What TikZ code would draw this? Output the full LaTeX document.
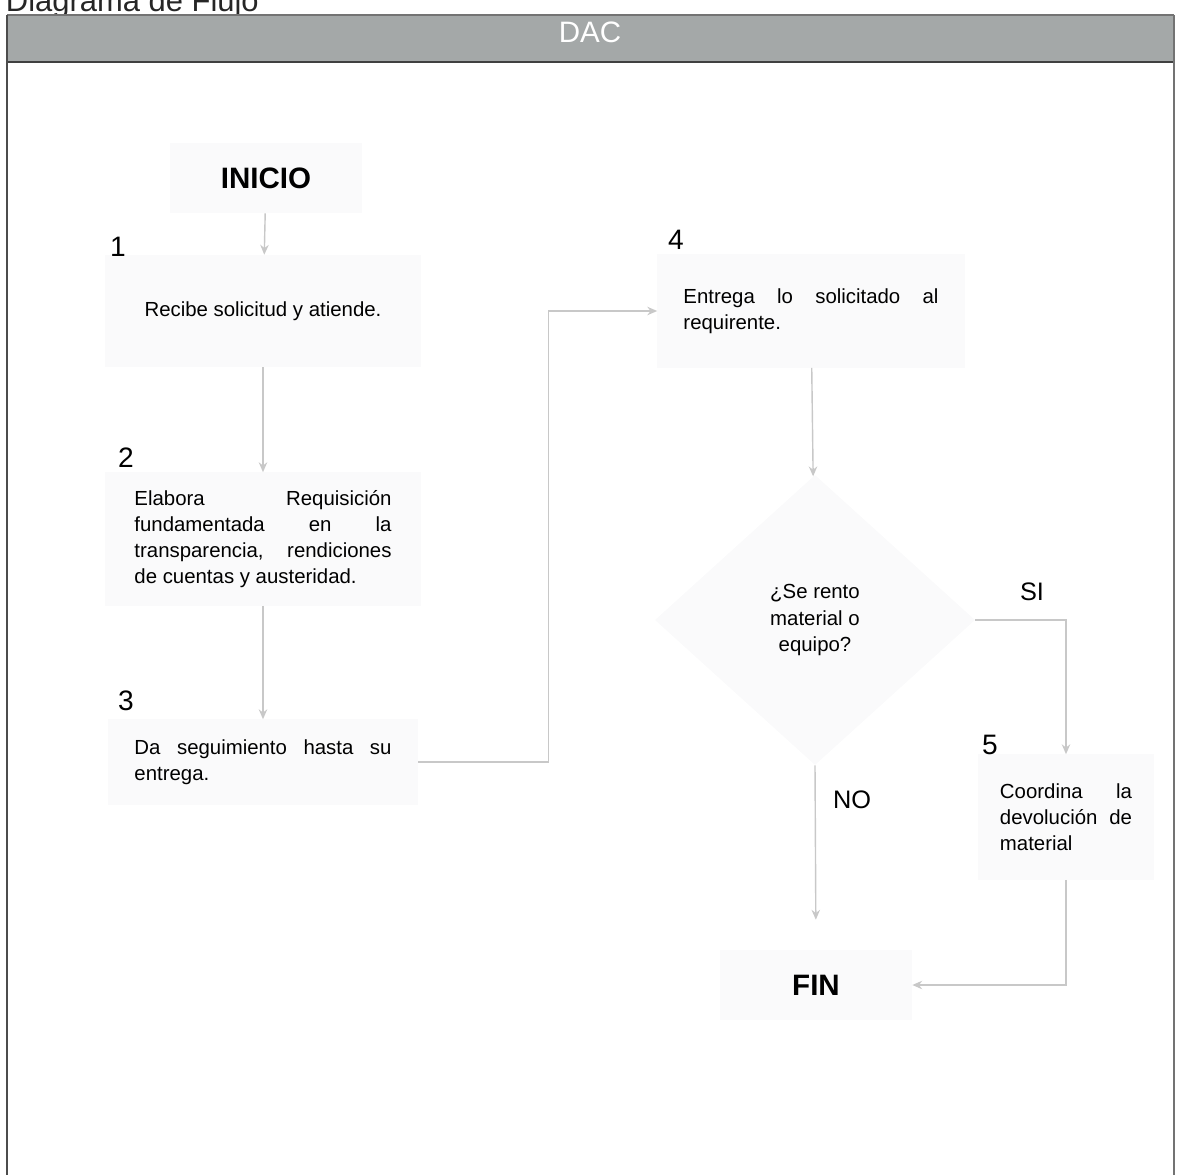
\documentclass[tikz,border=0pt]{standalone}
\usepackage{fontspec}
\setmainfont{Liberation Sans}
\usepackage{xcolor}
\usepackage{tikz}
\usetikzlibrary{arrows.meta,calc,positioning,shapes.geometric}
\definecolor{barra}{RGB}{164,168,168}
\definecolor{linea}{RGB}{200,200,200}
\definecolor{fondo}{RGB}{250,250,251}
\newcommand{\txt}{\fontsize{14.5}{18.6}\selectfont}
\newcommand{\num}{\fontsize{20}{24}\selectfont}

\begin{document}
\begin{tikzpicture}[x=0.025cm, y=-0.025cm,
    caja/.style={fill=fondo, inner sep=0pt, font=\txt},
    fin/.style={caja, minimum width=4.8cm, minimum height=1.75cm,
      font=\fontsize{21}{24}\selectfont\bfseries},
    paso/.style={font=\num},
    flujo/.style={draw=linea, line width=1pt, -{Stealth[length=7pt,width=6pt]}}]
\useasboundingbox (0,0) rectangle (1177,1175);
% marco y encabezado
\node[anchor=base west, font=\fontsize{22}{26}\selectfont, text=black!85] (titulo) at (1,12) {Diagrama de Flujo};
\fill[barra] (7,15) rectangle (1174,62);
\draw[black!55, line width=0.8pt] (7,15) -- (1174,15);
\draw[black!75, line width=1.2pt] (7,62) -- (1174,62);
\draw[black!70, line width=1pt] (7,15) -- (7,1190);
\draw[black!55, line width=0.8pt] (1174,15) -- (1174,1190);
\node[text=white, font=\fontsize{21}{24}\selectfont] (dac) at (590,32) {DAC};
% columna izquierda
\node[fin] (inicio) at (266,178) {INICIO};
\node[caja, minimum width=7.875cm, minimum height=2.8cm, align=center] (b1) at (263,311)
  {Recibe solicitud y atiende.};
\node[caja, minimum width=7.875cm, minimum height=3.325cm, text width=6.425cm, align=justify] (b2) at (263,539)
  {Elabora Requisición\linebreak fundamentada en la\linebreak transparencia, rendiciones\linebreak de cuentas y austeridad.};
\node[caja, minimum width=7.75cm, minimum height=2.125cm, text width=6.425cm, align=justify] (b3) at (263,762)
  {Da seguimiento hasta su\linebreak entrega.};
% columna derecha
\node[caja, minimum width=7.675cm, minimum height=2.825cm, text width=6.375cm, align=justify] (b4) at (811,311)
  {Entrega lo solicitado al\linebreak requirente.};
\node[caja, diamond, minimum width=8cm, minimum height=7.25cm, align=center] (rombo) at (815,620)
  {¿Se rento\\material o\\equipo?};
\node[caja, minimum width=4.4cm, minimum height=3.125cm, text width=3.3cm, align=justify] (b5) at (1066,817)
  {Coordina la\linebreak devolución de\linebreak material};
\node[fin] (final) at (816,985) {FIN};
% numeros y respuestas
\node[paso] (n1) at (118,247) {1};
\node[paso] (n2) at (126,458) {2};
\node[paso] (n3) at (126,701) {3};
\node[paso] (n4) at (676,240) {4};
\node[paso] (n5) at (990,745) {5};
\node[font=\fontsize{18}{22}\selectfont] (si) at (1032,592) {SI};
\node[font=\fontsize{18}{22}\selectfont] (no) at (852,800) {NO};
% conectores
\draw[flujo] (inicio) -- (b1);
\draw[flujo] (b1) -- (b2);
\draw[flujo] (b2) -- (b3);
\draw[flujo] (b3.east) -- ++(130,0) |- (b4.west);
\draw[flujo] (b4) -- (rombo);
\draw[flujo, shorten >=0.75cm] (rombo.south) -- (final.north);
\draw[flujo] (rombo.east) -| (b5.north);
\draw[flujo] (b5.south) |- (final.east);
\end{tikzpicture}
\end{document}
